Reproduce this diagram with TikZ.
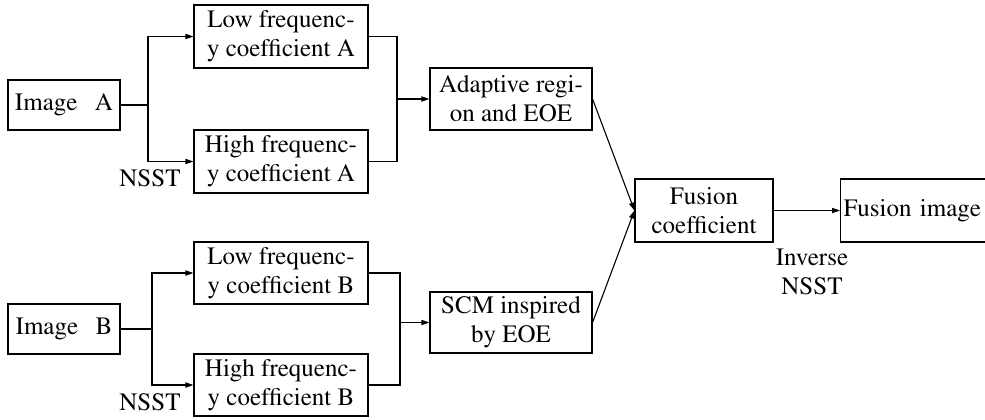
\documentclass[tikz,border=0pt]{standalone}
\usepackage[T1]{fontenc}
\usepackage{mathptmx}
\usetikzlibrary{arrows.meta}
\begin{document}
\begin{tikzpicture}[x=0.5pt,y=-0.5pt,
  font=\fontsize{12.5}{14.5}\selectfont,
  box/.style={draw, line width=0.55pt, align=center, inner sep=0pt},
  lbl/.style={inner sep=0pt, align=center},
  conn/.style={line width=0.55pt},
  arr/.style={line width=0.55pt, -{Triangle[length=4pt,width=2.6pt]}}]
\useasboundingbox (0,0) rectangle (985,419);
% nodes
\node[box, minimum width=56pt, minimum height=25pt] (imgA) at (64,105) {Image\hspace{0.7em}A};
\node[box, minimum width=87pt, minimum height=31.5pt] (lowA) at (281,36.5) {Low frequenc-\\y coefficient A};
\node[box, minimum width=87pt, minimum height=31.5pt] (highA) at (281,161.5) {High frequenc-\\y coefficient A};
\node[box, minimum width=81pt, minimum height=31pt] (adapt) at (511,99) {Adaptive regi-\\on and EOE};
\node[box, minimum width=56pt, minimum height=25pt] (imgB) at (64,329) {Image\hspace{0.7em}B};
\node[box, minimum width=87pt, minimum height=31pt] (lowB) at (281,273) {Low frequenc-\\y coefficient B};
\node[box, minimum width=87pt, minimum height=31pt] (highB) at (281,385) {High frequenc-\\y coefficient B};
\node[box, minimum width=81pt, minimum height=30.5pt] (scm) at (511,322.5) {SCM inspired\\by EOE};
\node[box, minimum width=69pt, minimum height=31.5pt] (fc) at (704,210.5) {Fusion\\coefficient};
\node[box, anchor=west, minimum height=31.5pt, text width=77pt, align=left, inner xsep=1.5pt] (fi) at (840,210.5) {Fusion image};
% labels
\node[lbl] (nsstA) at (150,178) {NSST};
\node[lbl] (nsstB) at (150,402) {NSST};
\node[lbl] (inv) at (812,272) {Inverse\\NSST};
% junction coordinates
\coordinate (jA) at (148,105);
\coordinate (mA) at (397,99);
\coordinate (jB) at (152,329);
\coordinate (mB) at (400,322.5);
% connectors
\draw[conn] (imgA.east) -- (jA);
\draw[arr] (jA) |- (lowA.west);
\draw[arr] (jA) |- (highA.west);
\draw[conn] (lowA.east) -| (mA);
\draw[conn] (highA.east) -| (mA);
\draw[arr] (mA) -- (adapt.west);
\draw[conn] (imgB.east) -- (jB);
\draw[arr] (jB) |- (lowB.west);
\draw[arr] (jB) |- (highB.west);
\draw[conn] (lowB.east) -| (mB);
\draw[conn] (highB.east) -| (mB);
\draw[arr] (mB) -- (scm.west);
\draw[arr] (adapt.east) -- (fc.west);
\draw[arr] (scm.east) -- (fc.west);
\draw[arr] (fc.east) -- (fi.west);
\end{tikzpicture}
\end{document}
